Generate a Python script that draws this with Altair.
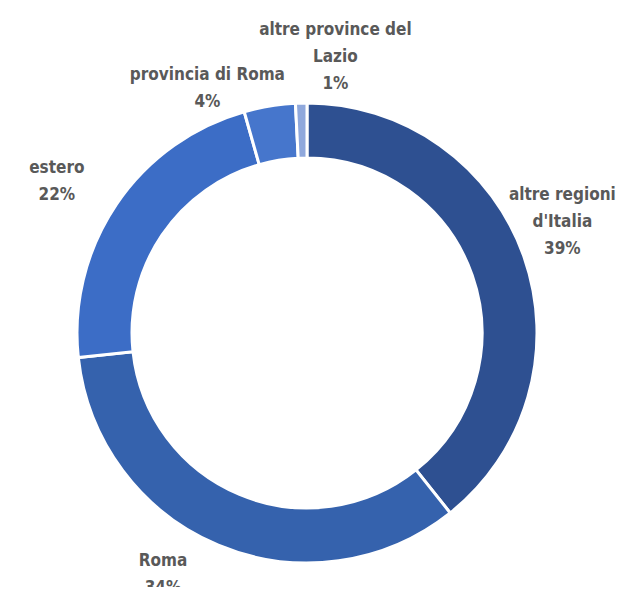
import altair as alt
import pandas as pd

categories = ["altre regioni d'Italia", "Roma", "estero", "provincia di Roma", "altre province del Lazio"]
label_text = ["altre regioni\nd'Italia", "Roma", "estero", "provincia di Roma", "altre province del\nLazio"]
values = [39.3, 34.0, 22.3, 3.6, 0.8]
colors = ["#2E5091", "#3562AD", "#3C6DC6", "#4676CC", "#8FA8DC"]

df = pd.DataFrame({
    "category": categories,
    "label": label_text,
    "value": values,
    "order": list(range(len(categories))),
})

CX, CY = 299, 325
R_OUT, R_IN, R_TXT = 230, 175, 262

# per-label nudges (style only)
nudges = {
    "altre regioni d'Italia": (8, -52),
    "Roma": (-43, -14),
    "estero": (-33, -18),
    "provincia di Roma": (-57, 1),
    "altre province del Lazio": (35, -41),
}

base = alt.Chart(df)

arc = base.mark_arc(
    outerRadius=R_OUT, innerRadius=R_IN, stroke="white", strokeWidth=3
).encode(
    theta=alt.Theta("value:Q", stack=True, scale=alt.Scale(domain=[0, 100])),
    color=alt.Color("category:N", scale=alt.Scale(domain=categories, range=colors), legend=None),
    order=alt.Order("order:Q"),
    x=alt.value(CX),
    y=alt.value(CY),
)

layers = [arc]
for cat in categories:
    dx, dy = nudges[cat]
    t = base.transform_window(
        cum="sum(value)", sort=[{"field": "order"}], frame=[None, 0]
    ).transform_calculate(
        mid="datum.cum - datum.value / 2",
        txt="datum.label + '\\n' + format(datum.value / 100, '.0%')",
    ).transform_filter(
        alt.datum.category == cat
    ).mark_text(
        font="DejaVu Sans Condensed",
        fontWeight="bold",
        fontSize=17,
        color="#595959",
        lineBreak="\n",
        lineHeight=27,
        align="center",
        baseline="middle",
        radius=R_TXT,
        dx=dx,
        dy=dy,
    ).encode(
        theta=alt.Theta("mid:Q", stack=None, scale=alt.Scale(domain=[0, 100])),
        text="txt:N",
        x=alt.value(CX),
        y=alt.value(CY),
    )
    layers.append(t)

chart = alt.layer(*layers).properties(
    width=611, height=579, padding=0, autosize=alt.AutoSizeParams(type="none"),
    background="white",
).configure_view(stroke=None)

chart.save("out.html", embed_options={"renderer": "svg", "actions": False})
